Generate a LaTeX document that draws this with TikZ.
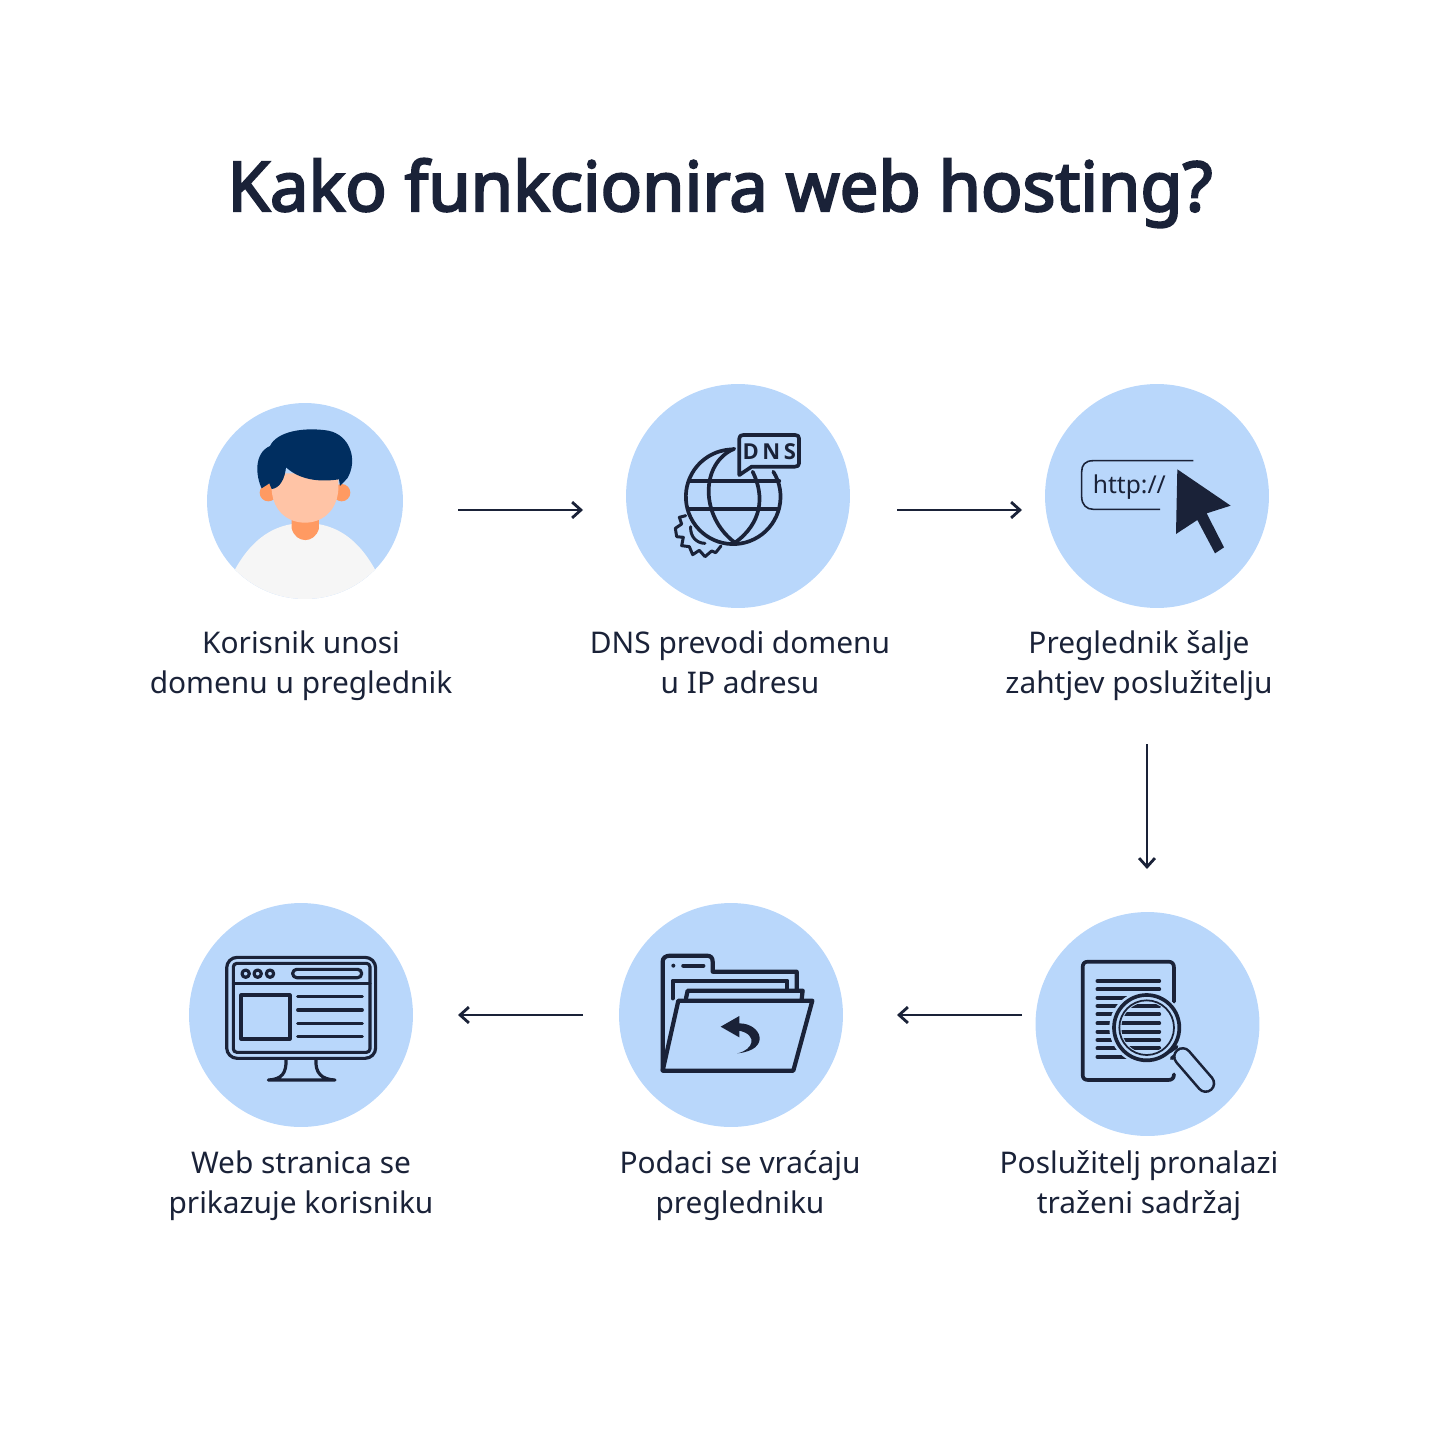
\documentclass[tikz,border=0pt]{standalone}
\usepackage{fontspec}
\setmainfont{Noto Sans}
\newfontfamily\naslovfont[FakeBold=3.2]{Noto Sans}
\newfontfamily\dnsfont{Open Sans}
\usepackage{tikz}
\usetikzlibrary{arrows.meta, positioning}
\definecolor{tamna}{HTML}{1A2238}
\definecolor{krug}{HTML}{B9D7FB}
\definecolor{kosa}{HTML}{002E60}
\definecolor{lice}{HTML}{FFC4A6}
\definecolor{vrat}{HTML}{FF9A62}
\definecolor{majica}{HTML}{F6F6F6}
\tikzset{
    krugic/.style={circle,fill=krug,inner sep=0pt,minimum size=4.48cm},
    opis/.style={align=center,text=tamna,font=\fontsize{17}{22.8}\selectfont},
    strelica/.style={draw=tamna,line width=1.6pt,-{Straight Barb[length=5pt,width=9pt]}},
    ikona/.style={shift={#1},x=0.00667cm,y=-0.00667cm,draw=tamna,line width=2.1pt,line join=round,line cap=round},
}

\begin{document}
\begin{tikzpicture}[x=0.02cm,y=-0.02cm]
    \useasboundingbox (0,0) rectangle (1440,1440);
    % Naslov
    \node[text=tamna,font=\fontsize{39.1}{46}\selectfont\naslovfont] (naslov) at (720,193) {Kako funkcionira web hosting?};

    % Krugovi
    \node[krugic,minimum size=3.92cm] (korisnik) at (305,501) {};
    \node[krugic] (dns) at (738,496) {};
    \node[krugic] (http) at (1157,496) {};
    \node[krugic] (trazi) at (1147.5,1024) {};
    \node[krugic] (mapa) at (731,1015) {};
    \node[krugic] (monitor) at (301,1015) {};

    % Opisi
    \node[opis] (opis1) at (301,666) {Korisnik unosi\\domenu u preglednik};
    \node[opis] (opis2) at (740,662) {DNS prevodi domenu\\u IP adresu};
    \node[opis] (opis3) at (1139,666) {Preglednik šalje\\zahtjev poslužitelju};
    \node[opis] (opis4) at (1139,1186) {Poslužitelj pronalazi\\traženi sadržaj};
    \node[opis] (opis5) at (740,1186) {Podaci se vraćaju\\pregledniku};
    \node[opis] (opis6) at (301,1186) {Web stranica se\\prikazuje korisniku};

    % Strelice
    \coordinate (s1a) at (458,510);
    \coordinate (s1b) at (583,510);
    \coordinate (s2a) at (897,510);
    \coordinate (s2b) at (1022,510);
    \coordinate (s3a) at (1147,744);
    \coordinate (s3b) at (1147,869);
    \coordinate (s4a) at (1022,1015);
    \coordinate (s4b) at (897,1015);
    \coordinate (s5a) at (583,1015);
    \coordinate (s5b) at (458,1015);
    \draw[strelica] (s1a) -- (s1b);
    \draw[strelica] (s2a) -- (s2b);
    \draw[strelica] (s3a) -- (s3b);
    \draw[strelica] (s4a) -- (s4b);
    \draw[strelica] (s5a) -- (s5b);

    % Korisnik
    \begin{scope}
        \clip (305,501) circle [radius=98];
        \fill[majica] (215,620) .. controls (235,550) and (265,523) .. (305,523) .. controls (345,523) and (375,550) .. (395,620) -- cycle;
    \end{scope}
    \begin{scope}[ikona={(190,390)}]
        \fill[vrat] (305,380) -- (387,380) -- (387,415) .. controls (375,462) and (317,462) .. (305,415) -- cycle;
        \fill[vrat] (235,308) circle [radius=26];
        \fill[vrat] (455,308) circle [radius=26];
        \fill[lice] (245,250) -- (445,250) -- (445,300) .. controls (440,365) and (395,398) .. (345,398) .. controls (295,398) and (250,365) .. (245,300) -- cycle;
        \fill[kosa] (215,295) .. controls (198,260) and (190,190) .. (240,168) .. controls (260,125) and (340,110) .. (415,122) .. controls (480,135) and (505,210) .. (472,265) -- (450,288) -- (447,268) .. controls (400,275) and (335,275) .. (288,232) .. controls (285,265) and (270,295) .. (245,297) -- (238,280) -- cycle;
    \end{scope}

    % DNS
    \begin{scope}[ikona={(650,410)}]
        \draw (370,185) arc [start angle=-32,end angle=270,radius=142];
        \draw (253,116) .. controls (150,160) and (150,320) .. (255,398) .. controls (335,340) and (345,260) .. (308,185);
        \draw (118,213) -- (388,213);
        \draw (118,298) -- (386,298);
        \draw (268,170) -- (268,85) .. controls (268,78) and (272,75) .. (280,75) -- (435,75) .. controls (443,75) and (447,78) .. (447,85) -- (447,160) .. controls (447,167) and (443,170) .. (435,170) -- (305,170) -- (268,195) -- cycle;
        \node[text=tamna,font=\fontsize{12.5}{14}\selectfont\dnsfont\bfseries] (dnstekst) at (358,125) {D\,N\,S};
        \draw[line width=1.7pt] (107,317) -- (88,322) -- (95,342) -- (76,355) -- (80,380) -- (100,382) -- (95,407) -- (118,410) -- (128,434) -- (148,421) -- (165,440) -- (185,423) -- (197,428) -- (213,408);
        \draw[line width=1.7pt] (122,350) .. controls (120,380) and (140,400) .. (165,400);
    \end{scope}

    % http i pokazivac
    \begin{scope}[ikona={(1060,440)},line width=0.9pt,line cap=butt]
        \draw (400,62) -- (100,62) .. controls (75,62) and (65,75) .. (65,95) -- (65,170) .. controls (65,195) and (80,208) .. (100,208) -- (300,208);
        \node[text=tamna,font=\fontsize{14}{16}\selectfont] (httptekst) at (208,142) {http://};
        \fill[tamna] (352,88) -- (512,197) -- (440,220) -- (492,322) -- (465,340) -- (412,240) -- (348,282) -- cycle;
    \end{scope}

    % Dokument i povecalo
    \begin{scope}[ikona={(1060,945)}]
        \draw (342,170) -- (342,68) .. controls (342,55) and (335,50) .. (325,50) -- (85,50) .. controls (73,50) and (68,55) .. (68,68) -- (68,388) .. controls (68,400) and (73,405) .. (85,405) -- (325,405) .. controls (335,405) and (342,400) .. (342,388);
        \foreach \redak in {108,133,158,183,208,235,260,285,310,335}
            \draw (112,\redak) -- (298,\redak);
        \fill[krug] (258,248) circle [radius=110];
        \begin{scope}
            \clip (260,248) circle [radius=76];
            \foreach \redak in {183,208,235,260,285,310}
                \draw (185,\redak) -- (298,\redak);
        \end{scope}
        \draw (260,248) circle [radius=98];
        \draw[line width=1pt] (260,248) circle [radius=82];
        \draw (328,320) -- (350,305);
        \draw (335,340) -- (357,322);
        \draw[line width=11pt] (368,335) -- (437,415);
        \draw[krug,line width=8pt] (368,335) -- (437,415);
    \end{scope}

    % Mapa
    \begin{scope}[ikona={(650,940)},line width=2.4pt]
        \draw (38,390) -- (38,65) .. controls (38,53) and (48,47) .. (60,47) -- (170,47) .. controls (182,47) and (188,53) .. (188,65) -- (188,95) -- (440,95) -- (440,150);
        \fill[tamna] (70,77) circle [radius=6];
        \draw (100,77) -- (160,77);
        \draw (68,175) -- (68,122) -- (412,122) -- (412,150);
        \draw (108,175) -- (113,152) -- (458,152) -- (455,178);
        \draw (85,182) -- (487,182) -- (430,392) -- (38,392) -- cycle;
        \fill[tamna] (212,260) -- (268,228) -- (268,250) .. controls (335,250) and (365,330) .. (262,340) .. controls (310,330) and (325,285) .. (268,272) -- (268,292) -- cycle;
    \end{scope}

    % Monitor
    \begin{scope}[ikona={(215,945)},line width=1.8pt]
        \draw[rounded corners=6pt] (35,37) rectangle (482,340);
        \draw[rounded corners=2pt] (55,55) rectangle (465,322);
        \draw (55,115) -- (465,115);
        \foreach \krugx in {92,128,165}
            \draw (\krugx,86) circle [radius=11];
        \draw[rounded corners=2.3pt] (233,73) rectangle (440,98);
        \draw (78,150) rectangle (225,282);
        \foreach \redak in {155,195,235,275}
            \draw (248,\redak) -- (442,\redak);
        \draw (213,342) .. controls (215,385) and (200,403) .. (160,405) -- (360,405) .. controls (320,403) and (300,385) .. (303,342);
    \end{scope}
\end{tikzpicture}
\end{document}
